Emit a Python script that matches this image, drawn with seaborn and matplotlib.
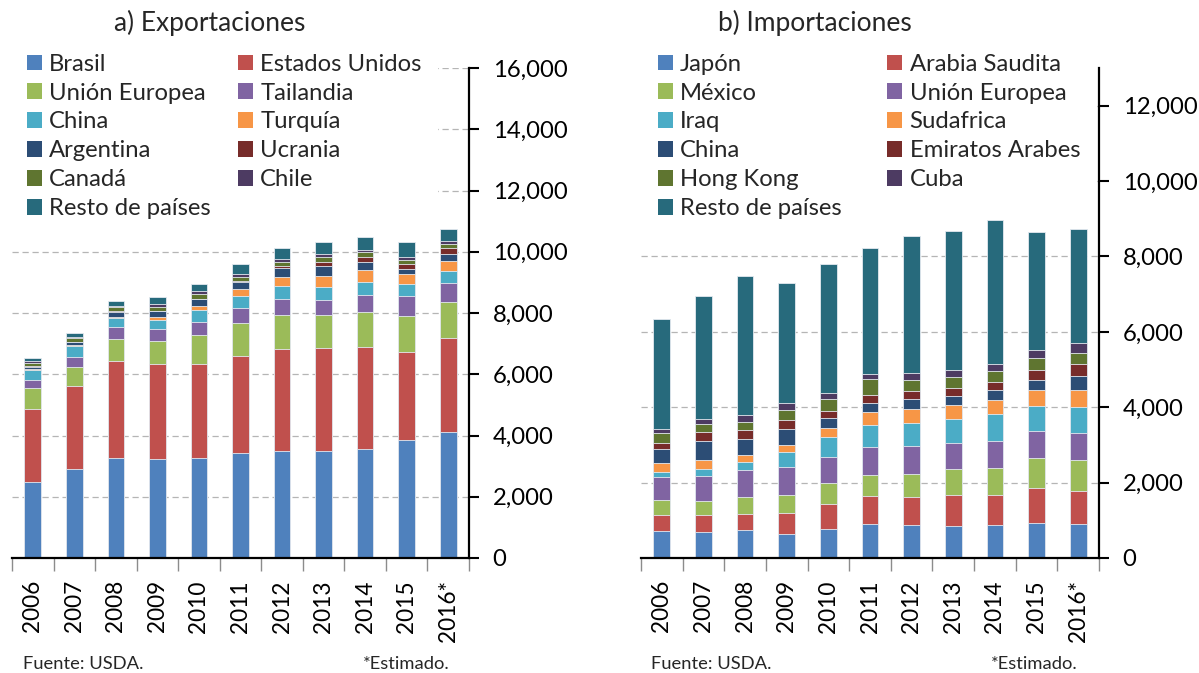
import numpy as np
import matplotlib
matplotlib.use('Agg')
import matplotlib.pyplot as plt
from matplotlib.patches import Patch
from matplotlib.ticker import FuncFormatter, FixedLocator
import seaborn as sns

# --- Data (miles de toneladas) ---
years = ['2006', '2007', '2008', '2009', '2010', '2011', '2012', '2013', '2014', '2015', '2016*']

# a) Exportaciones
exp_labels = ['Brasil', 'Estados Unidos', 'Unión Europea', 'Tailandia', 'China', 'Turquía',
              'Argentina', 'Ucrania', 'Canadá', 'Chile', 'Resto de países']
exp_brasil = [2490, 2920, 3250, 3220, 3270, 3440, 3510, 3490, 3570, 3850, 4100]
exp_eeuu = [2380, 2700, 3170, 3100, 3070, 3170, 3310, 3360, 3310, 2870, 3070]
exp_ue = [680, 620, 730, 780, 950, 1060, 1100, 1070, 1150, 1190, 1200]
exp_tailandia = [260, 310, 380, 370, 430, 480, 550, 500, 550, 630, 610]
exp_china = [340, 370, 310, 300, 390, 420, 400, 430, 430, 400, 380]
exp_turquia = [20, 20, 30, 100, 120, 200, 300, 350, 380, 320, 340]
exp_argentina = [80, 100, 160, 180, 220, 240, 290, 340, 280, 190, 230]
exp_ucrania = [30, 20, 20, 20, 20, 30, 70, 130, 150, 150, 180]
exp_canada = [100, 140, 130, 140, 160, 150, 150, 160, 160, 140, 150]
exp_chile = [40, 30, 50, 80, 80, 90, 80, 90, 70, 90, 90]
exp_resto = [110, 110, 150, 220, 250, 330, 350, 390, 430, 480, 390]

# b) Importaciones
imp_labels = ['Japón', 'Arabia Saudita', 'México', 'Unión Europea', 'Iraq', 'Sudafrica',
              'China', 'Emiratos Arabes', 'Hong Kong', 'Cuba', 'Resto de países']
imp_japon = [710, 690, 730, 630, 780, 890, 870, 840, 880, 930, 900]
imp_arabia = [420, 440, 450, 560, 650, 750, 740, 840, 780, 920, 890]
imp_mexico = [420, 380, 430, 490, 560, 570, 630, 690, 730, 800, 810]
imp_ue = [590, 670, 720, 730, 690, 730, 730, 670, 710, 720, 720]
imp_iraq = [130, 190, 210, 400, 520, 600, 610, 660, 730, 650, 680]
imp_sudafrica = [260, 240, 200, 200, 240, 330, 370, 350, 370, 430, 470]
imp_china = [360, 490, 420, 410, 270, 250, 260, 260, 270, 270, 350]
imp_emiratos = [160, 240, 230, 250, 200, 210, 220, 210, 190, 260, 320]
imp_hongkong = [270, 220, 230, 250, 310, 410, 300, 270, 300, 320, 310]
imp_cuba = [100, 120, 180, 180, 170, 140, 190, 190, 190, 220, 250]
imp_resto = [2910, 3260, 3680, 3200, 3420, 3350, 3630, 3700, 3810, 3140, 3040]

exp_series = [exp_brasil, exp_eeuu, exp_ue, exp_tailandia, exp_china, exp_turquia,
              exp_argentina, exp_ucrania, exp_canada, exp_chile, exp_resto]
imp_series = [imp_japon, imp_arabia, imp_mexico, imp_ue, imp_iraq, imp_sudafrica,
              imp_china, imp_emiratos, imp_hongkong, imp_cuba, imp_resto]

# Office palette
COLORS = ['#4F81BD', '#C0504D', '#9BBB59', '#8064A2', '#4BACC6', '#F79646',
          '#2C4D75', '#772C2A', '#5F7530', '#4D3B62', '#276A7C']

# --- Styling ---
sns.set_theme(style='white')
plt.rcParams['font.family'] = ['Lato', 'DejaVu Sans']
FS = 17.2

fig = plt.figure(figsize=(11.99, 6.73), dpi=100)
W, H = 1199, 673


def px_axes(x0, x1, y_top, y_bot):
    return fig.add_axes([x0 / W, 1 - y_bot / H, (x1 - x0) / W, (y_bot - y_top) / H])


def stacked(ax, series, ymax, ystep):
    cum = np.cumsum(np.array(series, dtype=float), axis=0)
    # draw cumulative totals top layer first so lower layers sit on top
    for i in range(len(series) - 1, -1, -1):
        sns.barplot(x=years, y=cum[i], color=COLORS[i], saturation=1, width=0.4,
                    edgecolor='#e4e9f0', linewidth=0.6, ax=ax)
    ax.set_xlim(-0.5, len(years) - 0.5)
    ax.set_ylim(0, ymax)
    ax.set_xlabel('')
    ax.set_ylabel('')
    ax.yaxis.set_major_locator(FixedLocator(np.arange(0, ymax + 1, ystep)))
    ax.yaxis.set_major_formatter(FuncFormatter(lambda v, p: f'{v:,.0f}'))
    ax.yaxis.tick_right()
    ax.tick_params(axis='y', which='major', right=True, left=False, labelright=True,
                   labelleft=False, direction='out', length=7, width=1.5,
                   color='black', pad=10, labelsize=FS, labelcolor='black')
    ax.set_xticks(range(len(years)))
    ax.set_xticklabels(years, rotation=90, fontsize=16.3, color='black')
    ax.xaxis.set_minor_locator(FixedLocator(np.arange(-0.5, len(years), 1)))
    ax.tick_params(axis='x', which='major', bottom=True, length=0, pad=16)
    ax.tick_params(axis='x', which='minor', bottom=True, length=9, width=1,
                   color='#8c8c8c')
    ax.yaxis.grid(True, linestyle=(0, (5, 3)), color='#b5b5b5', linewidth=0.9)
    ax.xaxis.grid(False)
    ax.set_axisbelow(True)
    for side in ['left', 'top']:
        ax.spines[side].set_visible(False)
    for side in ['right', 'bottom']:
        ax.spines[side].set_visible(True)
        ax.spines[side].set_color('black')
        ax.spines[side].set_linewidth(1.6)


def add_legend(ax, labels, x, y, colspace):
    handles = [Patch(facecolor=COLORS[i], edgecolor='none', label=labels[i])
               for i in range(len(labels))]
    # row-wise order like the original: matplotlib fills columns first
    order = [0, 2, 4, 6, 8, 10, 1, 3, 5, 7, 9]
    leg = ax.legend([handles[i] for i in order], [labels[i] for i in order],
                    ncol=2, loc='upper left', bbox_to_anchor=(x / W, 1 - y / H),
                    bbox_transform=fig.transFigure, borderaxespad=0, fontsize=FS,
                    frameon=True, fancybox=False, framealpha=1, facecolor='white',
                    edgecolor='none', handlelength=0.63, handleheight=0.63,
                    handletextpad=0.3, labelspacing=0.33, columnspacing=colspace,
                    borderpad=0.7)
    # above the gridlines, below the bars
    leg.set_zorder(0.9)
    return leg


ax1 = px_axes(12, 469, 68, 558)
stacked(ax1, exp_series, 16000, 2000)
add_legend(ax1, exp_labels, 10, 37, 1.15)

ax2 = px_axes(641, 1099, 68, 558)
stacked(ax2, imp_series, 13000, 2000)
add_legend(ax2, imp_labels, 641, 37, 1.92)

# titles and notes
fig.text(210 / W, 1 - 23 / H, 'a) Exportaciones', ha='center', va='center', fontsize=19)
fig.text(815 / W, 1 - 23 / H, 'b) Importaciones', ha='center', va='center', fontsize=19)
fig.text(23 / W, 1 - 664 / H, 'Fuente: USDA.', ha='left', va='center', fontsize=FS * 0.77)
fig.text(450 / W, 1 - 664 / H, '*Estimado.', ha='right', va='center', fontsize=FS * 0.77)
fig.text(651 / W, 1 - 664 / H, 'Fuente: USDA.', ha='left', va='center', fontsize=FS * 0.77)
fig.text(1078 / W, 1 - 664 / H, '*Estimado.', ha='right', va='center', fontsize=FS * 0.77)

plt.savefig('out.png', dpi=100)
plt.close()
